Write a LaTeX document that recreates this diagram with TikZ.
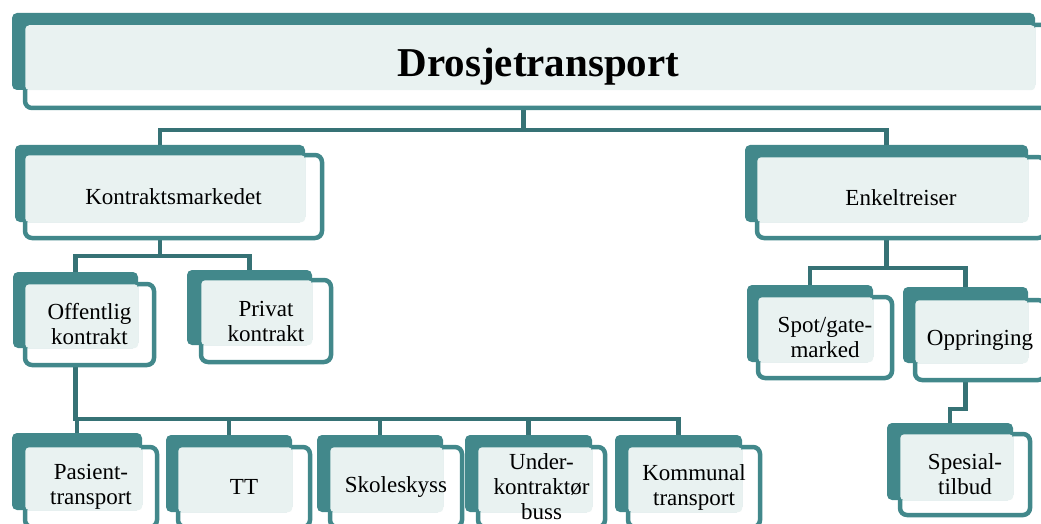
\documentclass[tikz,border=0pt]{standalone}
\usepackage{fontspec}
\setmainfont{Liberation Serif}
\usepackage{tikz}
\usetikzlibrary{fit, backgrounds}
\definecolor{boxteal}{RGB}{66,136,139}
\definecolor{lineteal}{RGB}{54,114,117}
\definecolor{paleteal}{RGB}{233,242,241}

\begin{document}
\begin{tikzpicture}[
    x=1pt, y=-1pt,
    boxframe/.style={rectangle, draw=boxteal, line width=4.5pt, fill=white, rounded corners=7pt, inner sep=0pt},
    tab/.style={rectangle, fill=boxteal, rounded corners=5pt, inner sep=0pt},
    pane/.style={fill=paleteal, rounded corners=4pt},
    caption/.style={align=center, font=\fontsize{23}{25}\selectfont},
    headline/.style={font=\fontsize{41}{45}\selectfont\bfseries},
    link/.style={draw=lineteal, line width=4.5pt}
]
\useasboundingbox (0,0) rectangle (1041,524);
\clip (0,0) rectangle (1041,524);

% Top box
\node[boxframe, fit={(25,25) (1052,108)}] (drof) {};
\node[tab, fit={(12,13) (1035,90)}] (drob) {};
\fill[pane] ([shift={(2.5,2.5)}]drof.north west) rectangle (drob.south east);
\node[headline] (dro) at (drof) {Drosjetransport};

% Second level
\node[boxframe, fit={(25,155) (322,238)}] (konf) {};
\node[tab, fit={(15,145) (305,222)}] (konb) {};
\fill[pane] ([shift={(2.5,2.5)}]konf.north west) rectangle (konb.south east);
\node[caption] (kon) at (konf) {Kontraktsmarkedet};

\node[boxframe, fit={(757,157) (1045,238)}] (enkf) {};
\node[tab, fit={(745,145) (1028,222)}] (enkb) {};
\fill[pane] ([shift={(2.5,2.5)}]enkf.north west) rectangle (enkb.south east);
\node[caption] (enk) at (enkf) {Enkeltreiser};

% Third level
\node[boxframe, fit={(25,284) (154,365)}] (offf) {};
\node[tab, fit={(13,272) (138,348)}] (offb) {};
\fill[pane] ([shift={(2.5,2.5)}]offf.north west) rectangle (offb.south east);
\node[caption] (off) at (offf) {Offentlig\\kontrakt};

\node[boxframe, fit={(201,280) (331,362)}] (prif) {};
\node[tab, fit={(187,270) (312,345)}] (prib) {};
\fill[pane] ([shift={(2.5,2.5)}]prif.north west) rectangle (prib.south east);
\node[caption] (pri) at (prif) {Privat\\kontrakt};

\node[boxframe, fit={(758,297) (892,378)}] (spof) {};
\node[tab, fit={(747,285) (873,362)}] (spob) {};
\fill[pane] ([shift={(2.5,2.5)}]spof.north west) rectangle (spob.south east);
\node[caption] (spo) at (spof) {Spot/gate-\\marked};

\node[boxframe, fit={(915,300) (1045,380)}] (oppf) {};
\node[tab, fit={(903,287) (1028,363)}] (oppb) {};
\fill[pane] ([shift={(2.5,2.5)}]oppf.north west) rectangle (oppb.south east);
\node[caption] (opp) at (oppf) {Oppringing};

% Bottom level
\node[boxframe, fit={(25,447) (157,527)}] (pasf) {};
\node[tab, fit={(12,433) (142,510)}] (pasb) {};
\fill[pane] ([shift={(2.5,2.5)}]pasf.north west) rectangle (pasb.south east);
\node[caption] (pas) at (pasf) {Pasient-\\transport};

\node[boxframe, fit={(178,447) (310,527)}] (ttf) {};
\node[tab, fit={(166,435) (292,512)}] (ttb) {};
\fill[pane] ([shift={(2.5,2.5)}]ttf.north west) rectangle (ttb.south east);
\node[caption] (tt) at (ttf) {TT};

\node[boxframe, fit={(330,447) (462,527)}] (skof) {};
\node[tab, fit={(317,435) (443,512)}] (skob) {};
\fill[pane] ([shift={(2.5,2.5)}]skof.north west) rectangle (skob.south east);
\node[caption] (sko) at (skof) {Skoleskyss};

\node[boxframe, fit={(478,447) (605,527)}] (undf) {};
\node[tab, fit={(465,435) (592,512)}] (undb) {};
\fill[pane] ([shift={(2.5,2.5)}]undf.north west) rectangle (undb.south east);
\node[caption] (und) at (undf) {Under-\\kontraktør\\buss};

\node[boxframe, fit={(628,447) (760,527)}] (komf) {};
\node[tab, fit={(615,435) (742,512)}] (komb) {};
\fill[pane] ([shift={(2.5,2.5)}]komf.north west) rectangle (komb.south east);
\node[caption] (kom) at (komf) {Kommunal\\transport};

\node[boxframe, fit={(900,434) (1030,515)}] (spef) {};
\node[tab, fit={(887,423) (1013,500)}] (speb) {};
\fill[pane] ([shift={(2.5,2.5)}]spef.north west) rectangle (speb.south east);
\node[caption] (spe) at (spef) {Spesial-\\tilbud};

% Connectors
\begin{scope}[on background layer]
\coordinate (topbar) at (0,130);
\coordinate (konbar) at (0,256);
\coordinate (enkbar) at (0,268);
\coordinate (offbar) at (0,419);
\coordinate (oppbar) at (0,409);
\draw[link] (drob.south) -- (drob.south |- topbar) -| (konb.north);
\draw[link] (drob.south) -- (drob.south |- topbar) -| (enkb.north);
\draw[link] (konb.south) -- (konb.south |- konbar) -| (offb.north);
\draw[link] (konb.south) -- (konb.south |- konbar) -| (prib.north);
\draw[link] (enkb.south) -- (enkb.south |- enkbar) -| (spob.north);
\draw[link] (enkb.south) -- (enkb.south |- enkbar) -| (oppb.north);
\draw[link] (offb.south) -- (offb.south |- offbar) -| (pasb.north);
\draw[link] (offb.south) -- (offb.south |- offbar) -| (ttb.north);
\draw[link] (offb.south) -- (offb.south |- offbar) -| (skob.north);
\draw[link] (offb.south) -- (offb.south |- offbar) -| (undb.north);
\draw[link] (offb.south) -- (offb.south |- offbar) -| (komb.north);
\draw[link] (oppb.south) -- (oppb.south |- oppbar) -| (speb.north);
\end{scope}

\end{tikzpicture}
\end{document}
